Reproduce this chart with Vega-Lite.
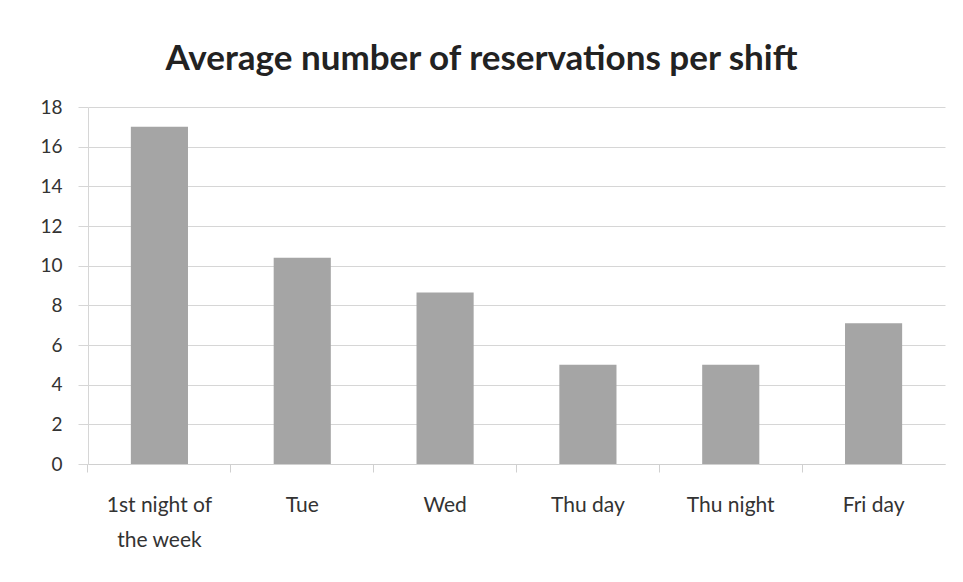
{
  "$schema": "https://vega.github.io/schema/vega-lite/v6.json",
  "autosize": "none",
  "width": 857,
  "height": 357,
  "padding": {"left": 88, "top": 107, "right": 18, "bottom": 118},
  "background": "white",
  "title": {
    "text": "Average number of reservations per shift",
    "font": "Lato",
    "fontSize": 35,
    "fontWeight": "bold",
    "color": "#222222",
    "anchor": "middle",
    "dx": -35,
    "offset": 21
  },
  "data": {
    "values": [
      {"shift": "1st night of the week", "reservations": 17.0},
      {"shift": "Tue", "reservations": 10.4},
      {"shift": "Wed", "reservations": 8.65},
      {"shift": "Thu day", "reservations": 5.0},
      {"shift": "Thu night", "reservations": 5.0},
      {"shift": "Fri day", "reservations": 7.1}
    ]
  },
  "mark": {"type": "bar", "color": "#a5a5a5"},
  "encoding": {
    "x": {
      "field": "shift",
      "type": "nominal",
      "sort": null,
      "scale": {"paddingInner": 0.6, "paddingOuter": 0.3},
      "axis": {
        "title": null,
        "labelAngle": 0,
        "labelFont": "Lato",
        "labelFontSize": 21,
        "labelColor": "#333333",
        "labelLineHeight": 35,
        "labelPadding": 22,
        "labelExpr": "datum.label == '1st night of the week' ? ['1st night of', 'the week'] : datum.label",
        "ticks": true,
        "bandPosition": -0.75,
        "tickSize": 8,
        "tickColor": "#d0d0d0",
        "domainColor": "#d0d0d0"
      }
    },
    "y": {
      "field": "reservations",
      "type": "quantitative",
      "scale": {"domain": [0, 18], "nice": false},
      "axis": {
        "title": null,
        "values": [0, 2, 4, 6, 8, 10, 12, 14, 16, 18],
        "labelFont": "Lato",
        "labelFontSize": 19,
        "labelColor": "#333333",
        "labelPadding": 16,
        "tickSize": 10,
        "tickColor": "#d6d6d6",
        "gridColor": "#d6d6d6",
        "domainColor": "#d6d6d6",
        "grid": true
      }
    }
  },
  "config": {"view": {"stroke": null}}
}
